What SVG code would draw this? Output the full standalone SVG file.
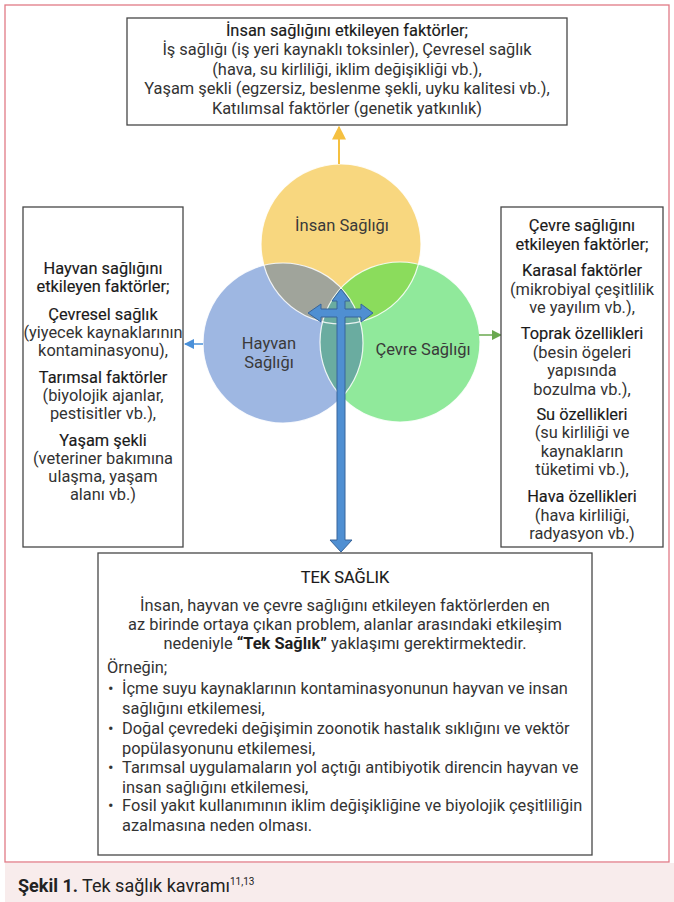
<svg xmlns="http://www.w3.org/2000/svg" width="674" height="902" viewBox="0 0 674 902">
<style>
.t{font-family:Roboto,"Liberation Sans",sans-serif;font-size:16.4px;fill:#333}
.h{fill:#1a1a1a;stroke:#1a1a1a;stroke-width:0.15}
.c{text-anchor:middle}
.lbl{font-family:Roboto,"Liberation Sans",sans-serif;font-size:16.5px;fill:#3a3a3a;text-anchor:middle}
.box{fill:#fff;stroke:#474747;stroke-width:1.3}
.ring{fill:none;stroke:#fff;stroke-width:1.2;stroke-opacity:0.85}
</style>
<defs>
<clipPath id="cY"><circle cx="341" cy="244" r="80"/></clipPath>
<clipPath id="cB"><circle cx="283" cy="343" r="80"/></clipPath>
<marker id="mY" viewBox="0 0 10 10" refX="9" refY="5" markerWidth="7" markerHeight="7" orient="auto"><path d="M0,0L10,5L0,10z" fill="#f5c040"/></marker>
<marker id="mB" viewBox="0 0 10 10" refX="9" refY="5" markerWidth="7" markerHeight="7" orient="auto"><path d="M0,0L10,5L0,10z" fill="#4a90d9"/></marker>
<marker id="mG" viewBox="0 0 10 10" refX="9" refY="5" markerWidth="7" markerHeight="7" orient="auto"><path d="M0,0L10,5L0,10z" fill="#6aa84f"/></marker>
</defs>

<!-- frame and caption -->
<rect x="5" y="5" width="664" height="857" fill="#fff" stroke="#e07a86" stroke-width="1.3"/>
<rect x="5" y="863" width="669" height="39" fill="#f8ecec"/>
<text x="18" y="892" font-family="Roboto,'Liberation Sans',sans-serif" font-size="18" fill="#222"><tspan font-weight="700">Şekil 1.</tspan> Tek sağlık kavramı<tspan font-size="10" dy="-7">11,13</tspan></text>

<!-- circles -->
<g id="venn">
<circle cx="341" cy="244" r="80" fill="#f8d77f"/>
<circle cx="283" cy="343" r="80" fill="#9eb7e2"/>
<circle cx="400" cy="342" r="80" fill="#90e99b"/>
<circle cx="283" cy="343" r="80" fill="#a0a49b" clip-path="url(#cY)"/>
<circle cx="400" cy="342" r="80" fill="#8bdc5c" clip-path="url(#cY)"/>
<circle cx="400" cy="342" r="80" fill="#6aaca0" clip-path="url(#cB)"/>
<circle class="ring" cx="341" cy="244" r="80"/>
<circle class="ring" cx="283" cy="343" r="80"/>
<circle class="ring" cx="400" cy="342" r="80"/>
</g>
<g id="insan-sagligi"><text class="lbl" x="342" y="231">İnsan Sağlığı</text></g>
<g id="hayvan-sagligi"><text class="lbl" x="269" y="349">Hayvan</text><text class="lbl" x="269" y="368">Sağlığı</text></g>
<g id="cevre-sagligi"><text class="lbl" x="423" y="355">Çevre Sağlığı</text></g>

<!-- connectors -->
<g id="connectors">
<line x1="339" y1="164" x2="339" y2="127" stroke="#f5c040" stroke-width="2" marker-end="url(#mY)"/>
<line x1="203" y1="344" x2="185" y2="344" stroke="#4a90d9" stroke-width="1.5" marker-end="url(#mB)"/>
<line x1="479" y1="335" x2="501" y2="335" stroke="#6aa84f" stroke-width="1.5" marker-end="url(#mG)"/>
<path d="M341,289 L350,301 L345,301 L345,309 L361,309 L361,304 L373,313 L361,322 L361,317 L345,317 L345,540 L352,540 L341,552 L330,540 L337,540 L337,317 L321,317 L321,322 L308,313 L321,304 L321,309 L337,309 L337,301 L332,301 Z" fill="#4f8fd2" stroke="#38659a" stroke-width="1" stroke-linejoin="miter"/>
</g>

<!-- top box -->
<g id="insan-faktorler">
<rect class="box" x="127" y="18" width="440" height="107"/>
<text class="t c h" x="347" y="36">İnsan sağlığını etkileyen faktörler;</text>
<text class="t c" x="347" y="55">İş sağlığı (iş yeri kaynaklı toksinler), Çevresel sağlık</text>
<text class="t c" x="347" y="75">(hava, su kirliliği, iklim değişikliği vb.),</text>
<text class="t c" x="347" y="94">Yaşam şekli (egzersiz, beslenme şekli, uyku kalitesi vb.),</text>
<text class="t c" x="347" y="114">Katılımsal faktörler (genetik yatkınlık)</text>
</g>

<!-- left box -->
<g id="hayvan-faktorler">
<rect class="box" x="23" y="207" width="160" height="340"/>
<text class="t c h" x="103" y="274">Hayvan sağlığını</text>
<text class="t c h" x="103" y="292">etkileyen faktörler;</text>
<text class="t c h" x="103" y="320">Çevresel sağlık</text>
<text class="t c" x="103" y="338">(yiyecek kaynaklarının</text>
<text class="t c" x="103" y="356">kontaminasyonu),</text>
<text class="t c h" x="103" y="383">Tarımsal faktörler</text>
<text class="t c" x="103" y="401">(biyolojik ajanlar,</text>
<text class="t c" x="103" y="419">pestisitler vb.),</text>
<text class="t c h" x="103" y="446">Yaşam şekli</text>
<text class="t c" x="103" y="464">(veteriner bakımına</text>
<text class="t c" x="103" y="482">ulaşma, yaşam</text>
<text class="t c" x="103" y="500">alanı vb.)</text>
</g>

<!-- right box -->
<g id="cevre-faktorler">
<rect class="box" x="501" y="207" width="162" height="340"/>
<text class="t c h" x="582" y="231">Çevre sağlığını</text>
<text class="t c h" x="582" y="250">etkileyen faktörler;</text>
<text class="t c h" x="582" y="276">Karasal faktörler</text>
<text class="t c" x="582" y="295">(mikrobiyal çeşitlilik</text>
<text class="t c" x="582" y="313">ve yayılım vb.),</text>
<text class="t c h" x="582" y="339">Toprak özellikleri</text>
<text class="t c" x="582" y="358">(besin ögeleri</text>
<text class="t c" x="582" y="376">yapısında</text>
<text class="t c" x="582" y="395">bozulma vb.),</text>
<text class="t c h" x="582" y="420">Su özellikleri</text>
<text class="t c" x="582" y="438">(su kirliliği ve</text>
<text class="t c" x="582" y="457">kaynakların</text>
<text class="t c" x="582" y="475">tüketimi vb.),</text>
<text class="t c h" x="582" y="502">Hava özellikleri</text>
<text class="t c" x="582" y="521">(hava kirliliği,</text>
<text class="t c" x="582" y="539">radyasyon vb.)</text>
</g>

<!-- bottom box -->
<g id="tek-saglik">
<rect class="box" x="98" y="553" width="494" height="302"/>
<text class="t c h" x="345" y="583">TEK SAĞLIK</text>
<text class="t c" x="345" y="611">İnsan, hayvan ve çevre sağlığını etkileyen faktörlerden en</text>
<text class="t c" x="345" y="630">az birinde ortaya çıkan problem, alanlar arasındaki etkileşim</text>
<text class="t c" x="345" y="649">nedeniyle <tspan font-weight="700" fill="#1e1e1e">“Tek Sağlık”</tspan> yaklaşımı gerektirmektedir.</text>
<text class="t" x="107" y="673">Örneğin;</text>
<text class="t" x="108" y="694" font-size="10">•</text>
<text class="t" x="122" y="694">İçme suyu kaynaklarının kontaminasyonunun hayvan ve insan</text>
<text class="t" x="122" y="714">sağlığını etkilemesi,</text>
<text class="t" x="108" y="734" font-size="10">•</text>
<text class="t" x="122" y="734">Doğal çevredeki değişimin zoonotik hastalık sıklığını ve vektör</text>
<text class="t" x="122" y="754">popülasyonunu etkilemesi,</text>
<text class="t" x="108" y="773" font-size="10">•</text>
<text class="t" x="122" y="773">Tarımsal uygulamaların yol açtığı antibiyotik direncin hayvan ve</text>
<text class="t" x="122" y="793">insan sağlığını etkilemesi,</text>
<text class="t" x="108" y="811" font-size="10">•</text>
<text class="t" x="122" y="811">Fosil yakıt kullanımının iklim değişikliğine ve biyolojik çeşitliliğin</text>
<text class="t" x="122" y="831">azalmasına neden olması.</text>
</g>
</svg>
